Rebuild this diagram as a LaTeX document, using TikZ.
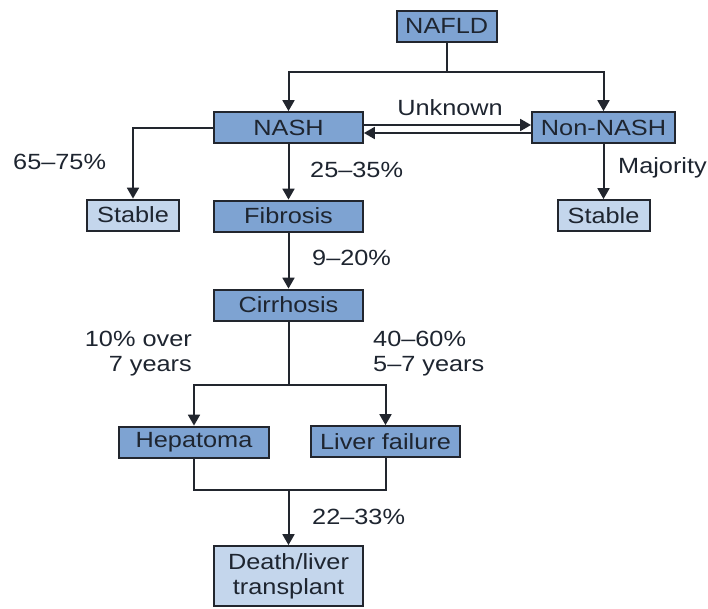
\documentclass[tikz,border=0pt]{standalone}
\usepackage{fontspec}
\setmainfont{Liberation Sans}[FakeStretch=1.15]
\usepackage{tikz}
\usetikzlibrary{arrows}
\definecolor{boxdark}{RGB}{126,163,210}
\definecolor{boxlight}{RGB}{196,214,236}
\definecolor{inkline}{RGB}{34,38,46}
\definecolor{inktext}{RGB}{30,37,48}
\tikzset{
stage/.style={draw=inkline, line width=2pt, fill=boxdark, inner sep=0pt, minimum height=31pt, text=inktext},
outcome/.style={stage, fill=boxlight},
rate/.style={inner sep=0pt, text=inktext},
link/.style={draw=inkline, line width=2pt, ->, >=triangle 60}
}
\begin{document}
\begin{tikzpicture}[x=1pt,y=-1pt,font=\fontsize{22}{25}\selectfont]
\useasboundingbox[fill=white] (0,0) rectangle (708,608);
\node[stage, minimum width=100pt] (nafld) at (446.7,26) {NAFLD};
\node[stage, minimum width=149pt] (nash) at (288.5,127.5) {NASH};
\node[stage, minimum width=143pt] (nonnash) at (603.5,127.5) {Non-NASH};
\node[outcome, minimum width=92pt] (stableL) at (133,215) {Stable};
\node[stage, minimum width=149pt] (fibrosis) at (288.5,216) {Fibrosis};
\node[outcome, minimum width=92pt] (stableR) at (603.5,215.5) {Stable};
\node[stage, minimum width=149pt] (cirrhosis) at (288.5,305) {Cirrhosis};
\node[stage, minimum width=150pt] (hepatoma) at (194,442) {Hepatoma};
\node[stage, minimum width=149pt] (liver) at (385.5,441.5) {Liver failure};
\node[outcome, minimum width=149pt, minimum height=60pt, align=center] (death) at (288.5,576) {Death/liver\\transplant};
\coordinate (split) at (446.7,72);
\coordinate (fork) at (288.5,385);
\coordinate (merge) at (288.5,490);
\draw[link, -] (nafld.south) -- (split);
\draw[link] (split) -| (nash.north);
\draw[link] (split) -| (nonnash.north);
\draw[link] ([yshift=2.5pt]nash.east) -- ([yshift=2.5pt]nonnash.west);
\draw[link] ([yshift=-5.5pt]nonnash.west) -- ([yshift=-5.5pt]nash.east);
\draw[link] (nash.west) -| (stableL.north);
\draw[link] (nash.south) -- (fibrosis.north);
\draw[link] (nonnash.south) -- (stableR.north);
\draw[link] (fibrosis.south) -- (cirrhosis.north);
\draw[link, -] (cirrhosis.south) -- (fork);
\draw[link] (fork) -| (hepatoma.north);
\draw[link] (fork) -| (liver.north);
\draw[link, -] (hepatoma.south) |- (merge) -| (liver.south);
\draw[link] (merge) -- (death.north);
\node[rate] (unknown) at (450,108) {Unknown};
\node[rate, anchor=west] (r1) at (13,162) {65--75\%};
\node[rate, anchor=west] (r2) at (310,170) {25--35\%};
\node[rate, anchor=west] (r3) at (618,168) {Majority};
\node[rate, anchor=west] (r4) at (312,258) {9--20\%};
\node[rate, anchor=east, align=right] (r5) at (192,353.5) {10\% over\\7 years};
\node[rate, anchor=west, align=left] (r6) at (373,353.5) {40--60\%\\5--7 years};
\node[rate, anchor=west] (r7) at (312,517) {22--33\%};
\end{tikzpicture}
\end{document}
